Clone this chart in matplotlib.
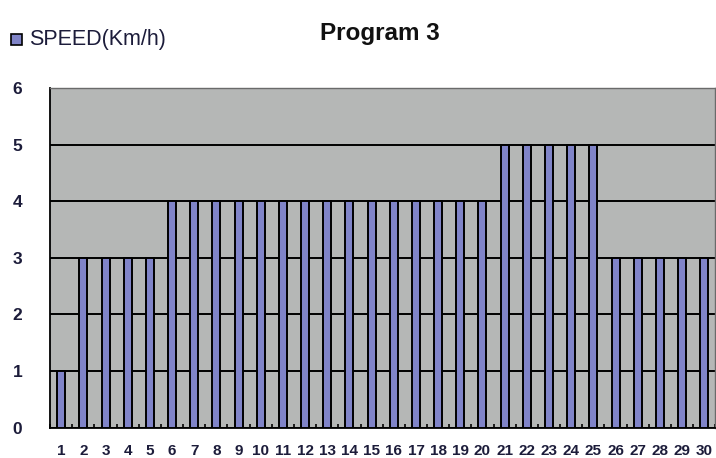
import matplotlib
matplotlib.use("Agg")
import matplotlib.pyplot as plt
from matplotlib.patches import Rectangle
from matplotlib.ticker import FixedLocator

plt.rcParams['font.family'] = ['Liberation Sans', 'DejaVu Sans']

segments = list(range(1, 31))
speed = [1, 3, 3, 3, 3,
         4, 4, 4, 4, 4, 4, 4, 4, 4, 4, 4, 4, 4, 4, 4,
         5, 5, 5, 5, 5,
         3, 3, 3, 3, 3]
y_ticks = [0, 1, 2, 3, 4, 5, 6]
series_name = "SPEED(Km/h)"
title = "Program 3"

bar_color = '#8084c8'
bg_color = '#b5b7b6'
text_color = '#1c1c3a'

fig = plt.figure(figsize=(7.16, 4.58), dpi=100)
ax = fig.add_axes([0.070, 0.066, 0.929, 0.742])
ax.set_facecolor(bg_color)

ax.bar(segments, speed, width=0.36, color=bar_color, edgecolor='black',
       linewidth=1.4, zorder=3)

ax.set_xlim(0.5, 30.5)
ax.set_ylim(0, 6)
ax.set_yticks(y_ticks)
ax.set_xticks(segments)
ax.xaxis.set_minor_locator(FixedLocator([i + 0.5 for i in range(0, 31)]))
ax.grid(axis='y', color='black', linewidth=1.4, zorder=1)
ax.set_axisbelow(True)

ax.tick_params(axis='y', length=0, pad=20, labelsize=12.5, labelcolor=text_color)
ax.tick_params(axis='x', which='major', length=0, pad=12, labelsize=11,
               labelcolor=text_color)
ax.tick_params(axis='x', which='minor', direction='in', length=3, width=1.2,
               color='black')
for lbl in ax.get_xticklabels() + ax.get_yticklabels():
    lbl.set_fontweight('bold')

for side in ['left', 'bottom']:
    ax.spines[side].set_color('black')
    ax.spines[side].set_linewidth(1.3)
for side in ['top', 'right']:
    ax.spines[side].set_color('#6a6a6a')
    ax.spines[side].set_linewidth(1.0)

fig.text(0.530, 0.927, title, ha='center', va='center', fontsize=17.5,
         fontweight='bold', color='#111111')

# legend entry in the top-left corner
fig.patches.append(Rectangle((0.0155, 0.902), 0.0155, 0.024, transform=fig.transFigure,
                             facecolor=bar_color, edgecolor='black', linewidth=1.2))
fig.text(0.041, 0.914, series_name, ha='left', va='center', fontsize=15.5,
         color=text_color)

fig.savefig('out.png', dpi=100)
